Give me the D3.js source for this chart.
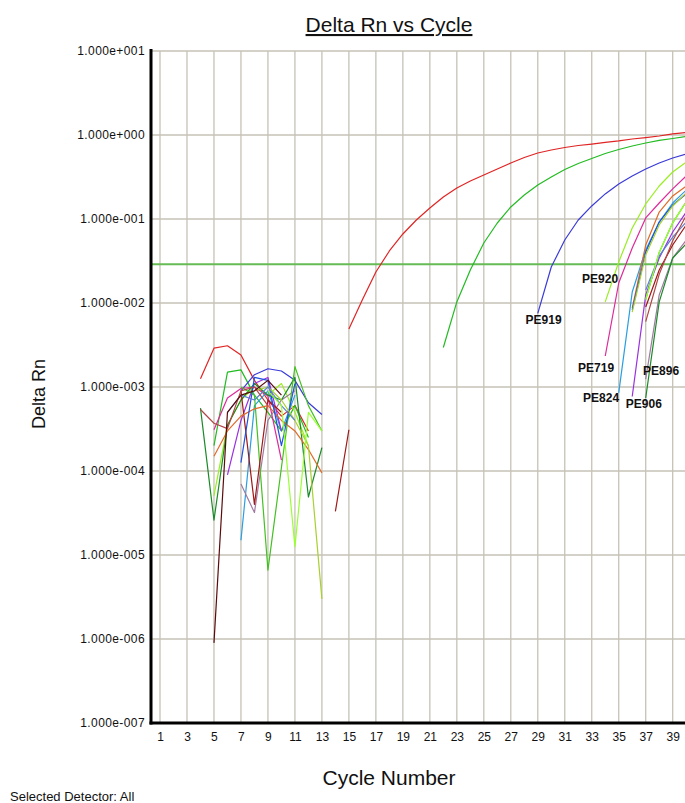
<!DOCTYPE html>
<html>
<head>
<meta charset="utf-8">
<script src="https://cdn.jsdelivr.net/npm/d3@7"></script>
<style>
  html, body { margin: 0; padding: 0; background: #fff; }
  svg { display: block; font-family: Arial, "Liberation Sans", sans-serif; }
</style>
</head>
<body>
<svg id="chart" width="685" height="803"></svg>
<script>
// ---- data: Delta Rn per well, cycles 1..40 (null = no positive reading) ----
const _ = null;
const cycleNumbers = [1,2,3,4,5,6,7,8,9,10,11,12,13,14,15,16,17,18,19,20,
                      21,22,23,24,25,26,27,28,29,30,31,32,33,34,35,36,37,38,39,40];
const xTickCycles = [1,3,5,7,9,11,13,15,17,19,21,23,25,27,29,31,33,35,37,39];
const yTickValues = [1e-7, 1e-6, 1e-5, 1e-4, 1e-3, 1e-2, 1e-1, 1, 10];
const yTickLabels = ["1.000e-007","1.000e-006","1.000e-005","1.000e-004","1.000e-003",
                     "1.000e-002","1.000e-001","1.000e+000","1.000e+001"];
const threshold = 0.029;

const wellRed = [_,_,_,1.25e-3,2.9e-3,3.1e-3,2.4e-3,1.2e-3,7e-4,4.5e-4,
  6e-4,3e-4,_,_,0.0049,0.0109,0.0234,0.0416,0.0663,0.0973,
  0.135,0.183,0.234,0.283,0.334,0.394,0.464,0.54,0.61,0.663,
  0.71,0.75,0.78,0.815,0.85,0.896,0.933,0.973,1.03,1.07];
const wellGreen = [_,_,_,_,2e-4,1.5e-3,1.6e-3,8e-4,5e-4,3e-4,
  6e-4,2.5e-4,_,_,_,_,_,_,_,_,
  _,0.00295,0.0103,0.0247,0.0518,0.0896,0.139,0.193,0.254,0.316,
  0.388,0.458,0.525,0.602,0.672,0.74,0.803,0.861,0.908,0.96];
const wellPE919 = [_,_,_,_,_,_,9e-4,1.4e-3,1.65e-3,1.55e-3,
  1.2e-3,6.5e-4,4.7e-4,_,_,_,_,_,_,_,
  _,_,_,_,_,_,_,_,0.00753,0.0268,
  0.0562,0.0973,0.143,0.199,0.261,0.325,0.394,0.464,0.532,0.594];
const wellPE920 = [_,_,_,_,5.1e-5,3.5e-4,7e-4,1e-3,8e-4,1.1e-3,
  5e-4,2e-4,_,_,_,_,_,_,_,_,
  _,_,_,_,_,_,_,_,_,_,
  _,_,_,0.0103,0.0308,0.078,0.151,0.247,0.363,0.477];
const wellPE719 = [_,_,_,_,3.1e-4,7.4e-4,9.6e-4,1e-3,7.8e-4,1.35e-4,
  _,_,_,_,_,_,_,_,_,_,
  _,_,_,_,_,_,_,_,_,_,
  _,_,_,0.00234,0.0173,0.0452,0.103,0.155,0.228,0.325];
const wellPE824 = [_,_,_,_,_,_,1.5e-5,6e-4,9e-4,3e-4,
  8e-4,_,_,_,_,_,_,_,_,_,
  _,_,_,_,_,_,_,_,_,_,
  _,_,_,_,0.00085,0.0135,0.0428,0.092,0.155,0.221];
const wellPE906 = [_,_,_,_,_,9e-5,4e-4,1.1e-3,1.3e-3,3e-4,
  _,_,_,_,_,_,_,_,_,_,
  _,_,_,_,_,_,_,_,_,_,
  _,_,_,_,_,0.00077,0.0125,0.0343,0.07,0.121];
const wellPE896 = [_,_,_,_,_,_,7e-5,3.2e-5,4e-4,7e-4,
  9e-4,_,_,_,_,_,_,_,_,_,
  _,_,_,_,_,_,_,_,_,_,
  _,_,_,_,_,_,0.00124,0.0125,0.0343,0.056];
const wellDarkGreen = [_,_,_,5.6e-4,2.6e-5,3.5e-4,7e-4,1.1e-3,8e-4,7e-4,
  1.3e-3,4.9e-5,1.9e-4,_,_,_,_,_,_,_,
  _,_,_,_,_,_,_,_,_,_,
  _,_,_,_,_,_,0.00074,0.0103,0.0343,0.0504];
const wellBrightGreen = [_,_,_,_,_,_,1e-3,8e-4,6.6e-6,1.1e-4,
  1.75e-3,6e-4,3e-4,_,_,_,_,_,_,_,
  _,_,_,_,_,_,_,_,_,_,
  _,_,_,_,_,_,0.011,0.04,0.09,0.16];
const wellDarkRed = [_,_,_,_,_,_,9e-4,4e-5,7e-4,5e-4,
  _,_,_,3.3e-5,3.1e-4,_,_,_,_,_,
  _,_,_,_,_,_,_,_,_,_,
  _,_,_,_,_,_,0.00895,0.0247,0.049,0.085];
const wellOrange = [_,_,_,_,1.5e-4,3e-4,4.5e-4,5.5e-4,6e-4,4e-4,
  3e-4,1.8e-4,9.5e-5,_,_,_,_,_,_,_,
  _,_,_,_,_,_,_,_,_,_,
  _,_,_,_,_,0.0087,0.049,0.121,0.188,0.247];
const wellBlue = [_,_,_,_,_,_,1.26e-4,1.3e-3,1.2e-3,2e-4,
  1.1e-3,_,_,_,_,_,_,_,_,_,
  _,_,_,_,_,_,_,_,_,_,
  _,_,_,_,_,0.0083,0.0405,0.092,0.147,0.199];
const wellOlive = [_,_,_,_,_,_,_,9e-4,1e-3,7e-4,
  4e-4,2e-4,3e-6,_,_,_,_,_,_,_,
  _,_,_,_,_,_,_,_,_,_,
  _,_,_,_,_,0.0078,0.0373,0.085,0.143,0.204];
const wellSteel = [_,_,_,_,_,5e-4,8e-4,7e-4,1e-3,6e-4,
  4e-4,_,_,_,_,_,_,_,_,_,
  _,_,_,_,_,_,_,_,_,_,
  _,_,_,_,_,_,0.0143,0.0363,0.061,0.092];
const wellLime = [_,_,_,_,_,_,_,_,9e-4,6e-4,
  1.26e-5,5e-4,3e-4,_,_,_,_,_,_,_,
  _,_,_,_,_,_,_,_,_,_,
  _,_,_,_,_,_,0.011,0.04,0.09,0.16];
const wellBrown = [_,_,_,5.4e-4,3.7e-4,3.2e-4,9e-4,1e-3,6e-4,_,
  _,_,_,_,_,_,_,_,_,_,
  _,_,_,_,_,_,_,_,_,_,
  _,_,_,_,_,_,0.006,0.022,0.055,0.11];
const wellMaroon = [_,_,_,_,9e-7,5e-4,8e-4,9e-4,1.2e-3,8e-4,
  _,_,_,_,_,_,_,_,_,_,
  _,_,_,_,_,_,_,_,_,_,
  _,_,_,_,_,_,_,_,_,_];

const wellSeries = [wellRed, wellGreen, wellPE919, wellPE920, wellPE719, wellPE824,
  wellPE906, wellPE896, wellDarkGreen, wellBrightGreen, wellDarkRed, wellOrange,
  wellBlue, wellOlive, wellSteel, wellLime, wellBrown, wellMaroon];
const wellColors = ["#e02424","#22bb22","#3a3ad8","#99ee22","#dd2a9a","#2a9ee0",
  "#9a30e0","#a07aa0","#1a8a28","#44c022","#a01818","#e06a28",
  "#2050e0","#a8d030","#5a82d0","#99ff33","#b04848","#5a0c0c"];

// well labels placed at (cycle, Delta Rn)
const labelNames  = ["PE919","PE920","PE719","PE824","PE906","PE896"];
const labelCycles = [29.43, 33.62, 33.32, 33.69, 36.86, 38.14];
const labelValues = [0.00628, 0.0193, 0.00168, 0.00074, 0.000628, 0.00155];

(function draw() {
  const svg = d3.select("#chart");
  const W = 685, H = 803;
  const plotLeft = 151, plotTop = 51, plotBottom = 723, plotRight = 686;

  const x = d3.scaleLinear().domain([1, 39]).range([160, 672.7]);
  const y = d3.scaleLog().domain([1e-7, 10]).range([plotBottom, plotTop]);

  svg.append("rect").attr("width", W).attr("height", H).attr("fill", "#fff");

  svg.append("defs").append("clipPath").attr("id", "plotClip")
    .append("rect").attr("x", plotLeft).attr("y", plotTop - 2)
    .attr("width", plotRight - plotLeft).attr("height", plotBottom - plotTop + 2);

  // grid
  const grid = svg.append("g").attr("stroke", "#c6c2b6").attr("stroke-width", 1.3);
  grid.selectAll("line.v").data(xTickCycles).join("line").attr("class", "v")
    .attr("x1", d => x(d)).attr("x2", d => x(d))
    .attr("y1", plotTop).attr("y2", plotBottom);
  grid.selectAll("line.h").data(yTickValues).join("line").attr("class", "h")
    .attr("x1", plotLeft).attr("x2", W)
    .attr("y1", d => y(d)).attr("y2", d => y(d));

  // threshold
  svg.append("line")
    .attr("x1", plotLeft).attr("x2", W)
    .attr("y1", y(threshold)).attr("y2", y(threshold))
    .attr("stroke", "#66bb55").attr("stroke-width", 2);

  // traces per well
  const line = d3.line()
    .defined(d => d.v != null)
    .x(d => x(d.c))
    .y(d => y(d.v));

  const traces = svg.append("g").attr("clip-path", "url(#plotClip)");
  wellSeries.forEach((vals, i) => {
    const pts = cycleNumbers.map((c, k) => ({ c, v: vals[k] }));
    traces.append("path")
      .attr("d", line(pts))
      .attr("fill", "none")
      .attr("stroke", wellColors[i])
      .attr("stroke-width", 1.2)
      .attr("stroke-linejoin", "round");
  });

  // well labels
  svg.append("g").selectAll("text").data(labelNames).join("text")
    .attr("x", (d, i) => x(labelCycles[i]))
    .attr("y", (d, i) => y(labelValues[i]))
    .attr("text-anchor", "middle")
    .attr("dominant-baseline", "central")
    .attr("font-size", 12).attr("font-weight", "bold")
    .attr("fill", "#111")
    .text(d => d);

  // axes
  const yAxis = d3.axisLeft(y).tickValues(yTickValues)
    .tickFormat((d, i) => yTickLabels[i]).tickSize(0).tickPadding(6);
  const gy = svg.append("g").attr("transform", `translate(${plotLeft},0)`).call(yAxis);
  gy.select(".domain").remove();
  gy.selectAll("text").attr("font-size", 12).attr("fill", "#111")
    .attr("font-family", "Arial, 'Liberation Sans', sans-serif")
    .attr("letter-spacing", 0.4);

  const xAxis = d3.axisBottom(x).tickValues(xTickCycles).tickSize(0).tickPadding(9);
  const gx = svg.append("g").attr("transform", `translate(0,${plotBottom})`).call(xAxis);
  gx.select(".domain").remove();
  gx.selectAll("text").attr("font-size", 12).attr("fill", "#111")
    .attr("font-family", "Arial, 'Liberation Sans', sans-serif");

  svg.append("line").attr("x1", plotLeft).attr("x2", plotLeft)
    .attr("y1", plotTop - 2).attr("y2", plotBottom + 1.5)
    .attr("stroke", "#000").attr("stroke-width", 3);
  svg.append("line").attr("x1", plotLeft - 1.5).attr("x2", W)
    .attr("y1", plotBottom).attr("y2", plotBottom)
    .attr("stroke", "#000").attr("stroke-width", 3);

  // titles
  svg.append("text").attr("x", 389).attr("y", 32)
    .attr("text-anchor", "middle").attr("font-size", 21)
    .attr("text-decoration", "underline").attr("fill", "#111")
    .text("Delta Rn vs Cycle");

  svg.append("text").attr("x", 389).attr("y", 785)
    .attr("text-anchor", "middle").attr("font-size", 21).attr("fill", "#111")
    .text("Cycle Number");

  svg.append("text")
    .attr("transform", "translate(45,394) rotate(-90)")
    .attr("text-anchor", "middle").attr("font-size", 18).attr("fill", "#111")
    .text("Delta Rn");

  svg.append("text").attr("x", 10).attr("y", 801)
    .attr("font-size", 13).attr("fill", "#111")
    .text("Selected Detector: All");
})();
</script>
</body>
</html>
